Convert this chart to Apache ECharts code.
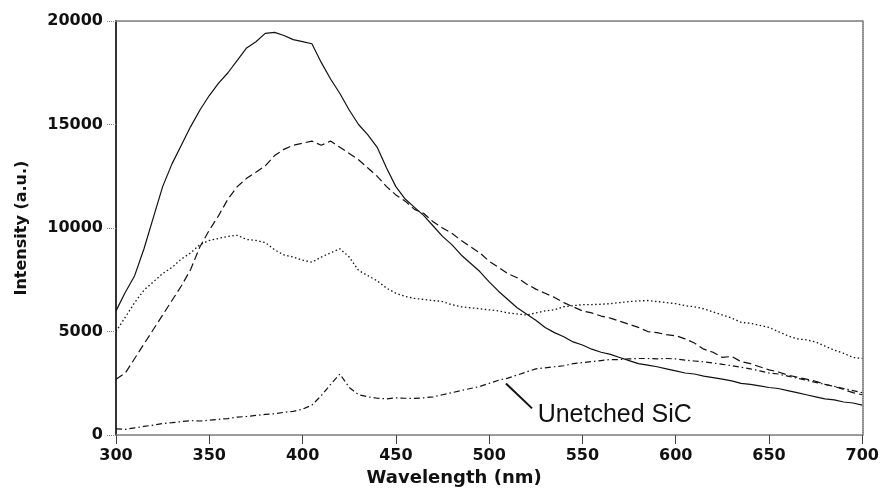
<!DOCTYPE html>
<html>
<head>
<meta charset="utf-8">
<script src="https://cdn.jsdelivr.net/npm/echarts@6/dist/echarts.min.js"></script>
<style>
html,body{margin:0;padding:0;background:#fff;}
#chart{width:882px;height:492px;}
</style>
</head>
<body>
<div id="chart"></div>
<script>
// Wavelength (nm)
const wavelength = [300,305,310,315,320,325,330,335,340,345,350,355,360,365,370,375,380,385,390,395,400,405,410,415,420,425,430,435,440,445,450,455,460,465,470,475,480,485,490,495,500,505,510,515,520,525,530,535,540,545,550,555,560,565,570,575,580,585,590,595,600,605,610,615,620,625,630,635,640,645,650,655,660,665,670,675,680,685,690,695,700];

// Solid curve
const solidSeries = [6000,6900,7700,9000,10500,12000,13100,14000,14900,15700,16400,17000,17500,18100,18700,19000,19400,19450,19300,19100,19000,18900,18000,17200,16500,15700,15000,14500,13900,12900,12000,11400,11000,10600,10100,9600,9200,8700,8300,7900,7400,6950,6550,6150,5850,5550,5200,4950,4750,4500,4350,4150,4000,3900,3750,3600,3450,3380,3300,3200,3100,3000,2950,2850,2780,2700,2620,2500,2450,2380,2300,2250,2150,2050,1950,1850,1750,1700,1600,1550,1450];

// Dashed curve
const dashedSeries = [2700,3000,3700,4400,5100,5800,6500,7200,8000,9100,9900,10600,11400,12000,12400,12700,13000,13500,13800,14000,14100,14200,14000,14200,13900,13600,13300,12900,12500,12000,11600,11300,10900,10700,10300,10000,9750,9400,9100,8800,8400,8100,7800,7600,7300,7050,6850,6650,6400,6200,6000,5900,5750,5650,5500,5350,5200,5000,4950,4850,4800,4650,4450,4150,4000,3750,3800,3550,3450,3300,3150,3050,2900,2800,2700,2600,2450,2350,2200,2050,1950];

// Dotted curve
const dottedSeries = [5000,5700,6400,7000,7400,7800,8100,8500,8800,9200,9400,9500,9600,9650,9450,9400,9300,8950,8700,8600,8450,8350,8600,8800,9000,8600,7950,7700,7450,7100,6850,6700,6600,6550,6500,6450,6300,6200,6150,6100,6050,6000,5900,5850,5800,5900,6000,6050,6200,6250,6300,6300,6320,6350,6400,6450,6480,6500,6450,6400,6350,6250,6200,6100,5950,5800,5650,5450,5400,5300,5200,5000,4800,4650,4600,4500,4300,4100,3950,3750,3700];

// Dash-dot curve (Unetched SiC)
const unetchedSeries = [300,280,350,420,480,560,600,650,700,680,720,760,800,870,900,950,1000,1030,1100,1150,1250,1450,1900,2450,2950,2300,1950,1850,1780,1750,1800,1780,1770,1800,1850,1950,2050,2150,2250,2350,2500,2650,2750,2900,3050,3200,3250,3300,3350,3450,3500,3550,3600,3650,3650,3680,3700,3700,3680,3700,3680,3620,3580,3540,3480,3420,3350,3280,3200,3100,3000,2950,2850,2750,2650,2550,2450,2350,2250,2150,2050];

// Annotation
const annotationText = 'Unetched SiC';
const annotationLineFrom = [509, 2490];
const annotationLineTo = [523, 1290];
const annotationTextAt = [526, 950];

const xTicks = {min: 300, max: 700, interval: 50};
const yTicks = {min: 0, max: 20000, interval: 5000};

function pairs(ys){ return wavelength.map((x,i)=>[x, ys[i]]); }

const chart = echarts.init(document.getElementById('chart'), null, {renderer:'canvas'});

const labelFont = {fontFamily:'DejaVu Sans', fontWeight:'bold', fontSize:16, color:'#111'};

function line(name, data, type, width){
  return {
    name, type:'line', data: pairs(data), xAxisIndex:0, yAxisIndex:0,
    showSymbol:false, symbol:'none', silent:true, animation:false,
    lineStyle:{color:'#111', width: width, type: type}
  };
}

const unetched = line('Unetched SiC', unetchedSeries, [6,3,1.5,3], 1.2);
unetched.markLine = {
  silent:true, symbol:['none','none'], animation:false,
  lineStyle:{color:'#111', width:2, type:'solid'},
  label:{show:false},
  data:[[{coord:annotationLineFrom},{coord:annotationLineTo}]]
};
unetched.markPoint = {
  silent:true, animation:false, symbol:'circle', symbolSize:0,
  data:[{coord:annotationTextAt, value: annotationText}],
  label:{show:true, position:'right', distance:0, formatter: annotationText,
    fontFamily:'Liberation Sans, Arial', fontSize:25, color:'#111'}
};

chart.setOption({
  animation:false,
  backgroundColor:'#fff',
  grid:{left:116, right:18, top:21, bottom:53, containLabel:false},
  xAxis:[
    {type:'value', position:'bottom', min:xTicks.min, max:xTicks.max, interval:xTicks.interval,
     name:'Wavelength (nm)', nameLocation:'middle', nameGap:33,
     nameTextStyle:{fontFamily:'DejaVu Sans', fontWeight:'bold', fontSize:18, color:'#111', padding:[0,70,0,0]},
     axisLine:{show:true, onZero:false, lineStyle:{color:'#777', width:1.5, type:[1,1]}},
     axisTick:{show:true, length:9, inside:false, lineStyle:{color:'#444', width:1}},
     axisLabel:Object.assign({margin:13, formatter: v => String(v)}, labelFont),
     splitLine:{show:false}},
    {type:'value', position:'top', min:xTicks.min, max:xTicks.max, interval:xTicks.interval,
     axisLine:{show:true, onZero:false, lineStyle:{color:'#777', width:1.5, type:[1,1]}},
     axisTick:{show:false}, axisLabel:{show:false}, splitLine:{show:false}}
  ],
  yAxis:[
    {type:'value', position:'left', min:yTicks.min, max:yTicks.max, interval:yTicks.interval,
     name:'Intensity (a.u.)', nameLocation:'middle', nameGap:86, nameRotate:90,
     nameTextStyle:{fontFamily:'DejaVu Sans', fontWeight:'bold', fontSize:16, color:'#111'},
     axisLine:{show:true, onZero:false, lineStyle:{color:'#333', width:2}},
     axisTick:{show:true, length:9, lineStyle:{color:'#888', width:1, type:[1,1]}},
     axisLabel:Object.assign({margin:13, formatter: v => String(v)}, labelFont),
     splitLine:{show:false}},
    {type:'value', position:'right', min:yTicks.min, max:yTicks.max, interval:yTicks.interval,
     axisLine:{show:true, onZero:false, lineStyle:{color:'#666', width:1.5, type:[1,1]}},
     axisTick:{show:false}, axisLabel:{show:false}, splitLine:{show:false}}
  ],
  series:[
    line('Solid', solidSeries, 'solid', 1.2),
    line('Dashed', dashedSeries, [8,4], 1.2),
    line('Dotted', dottedSeries, [1.5,2.5], 1.3),
    unetched
  ]
});
</script>
</body>
</html>
